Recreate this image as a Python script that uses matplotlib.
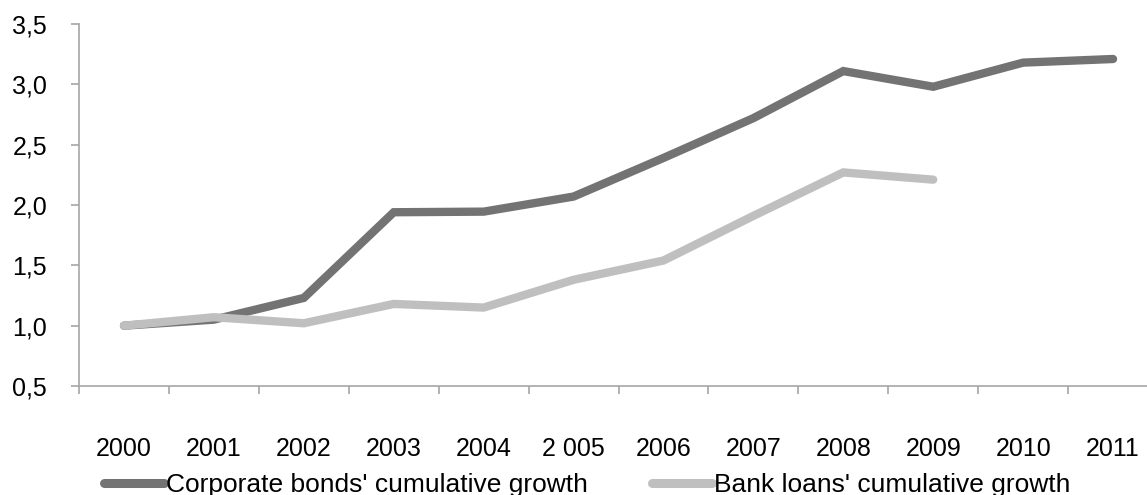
import matplotlib.pyplot as plt
from matplotlib.ticker import FixedLocator, FuncFormatter

years = ["2000", "2001", "2002", "2003", "2004", "2 005", "2006",
         "2007", "2008", "2009", "2010", "2011"]
corporate_bonds = [1.00, 1.05, 1.23, 1.94, 1.945, 2.07, 2.39, 2.72, 3.11, 2.98, 3.18, 3.21]
bank_loans = [1.00, 1.07, 1.02, 1.18, 1.15, 1.38, 1.54, 1.91, 2.27, 2.21]

plt.rcParams['font.family'] = ['Liberation Sans', 'DejaVu Sans']

fig = plt.figure(figsize=(11.47, 4.95), dpi=100)
ax = fig.add_axes([0.0689, 0.2202, 0.9407, 0.7313])

x1 = list(range(len(corporate_bonds)))
x2 = list(range(len(bank_loans)))
ax.plot(x1, corporate_bonds, color="#737373", lw=6, solid_capstyle="round",
        solid_joinstyle="miter", label="Corporate bonds' cumulative growth")
ax.plot(x2, bank_loans, color="#bfbfbf", lw=6, solid_capstyle="round",
        solid_joinstyle="miter", label="Bank loans' cumulative growth")

ax.set_xlim(-0.5, len(years) - 0.5)
ax.set_ylim(0.5, 3.5)
ax.set_yticks([0.5, 1.0, 1.5, 2.0, 2.5, 3.0, 3.5])
ax.yaxis.set_major_formatter(FuncFormatter(lambda v, p: f"{v:.1f}".replace(".", ",")))

ax.set_xticks(range(len(years)))
ax.set_xticklabels(years)
ax.xaxis.set_minor_locator(FixedLocator([i - 0.5 for i in range(len(years) + 1)]))
ax.tick_params(axis="x", which="major", length=0, pad=37, labelsize=18)
ax.tick_params(axis="x", which="minor", length=6, color="#a6a6a6", width=1.2, direction="out")
ax.tick_params(axis="y", length=6, color="#a6a6a6", width=1.2, labelsize=18, pad=17)

for s in ["top", "right"]:
    ax.spines[s].set_visible(False)
for s in ["left", "bottom"]:
    ax.spines[s].set_color("#a6a6a6")
    ax.spines[s].set_linewidth(1.2)

leg = fig.legend(loc="center", bbox_to_anchor=(0.512, 0.02), ncol=2, frameon=False,
                 fontsize=19, handlelength=2.27, handletextpad=0.08, columnspacing=2.46)
for h in leg.legend_handles:
    h.set_linewidth(6.5)

fig.savefig("out.png", dpi=100)
